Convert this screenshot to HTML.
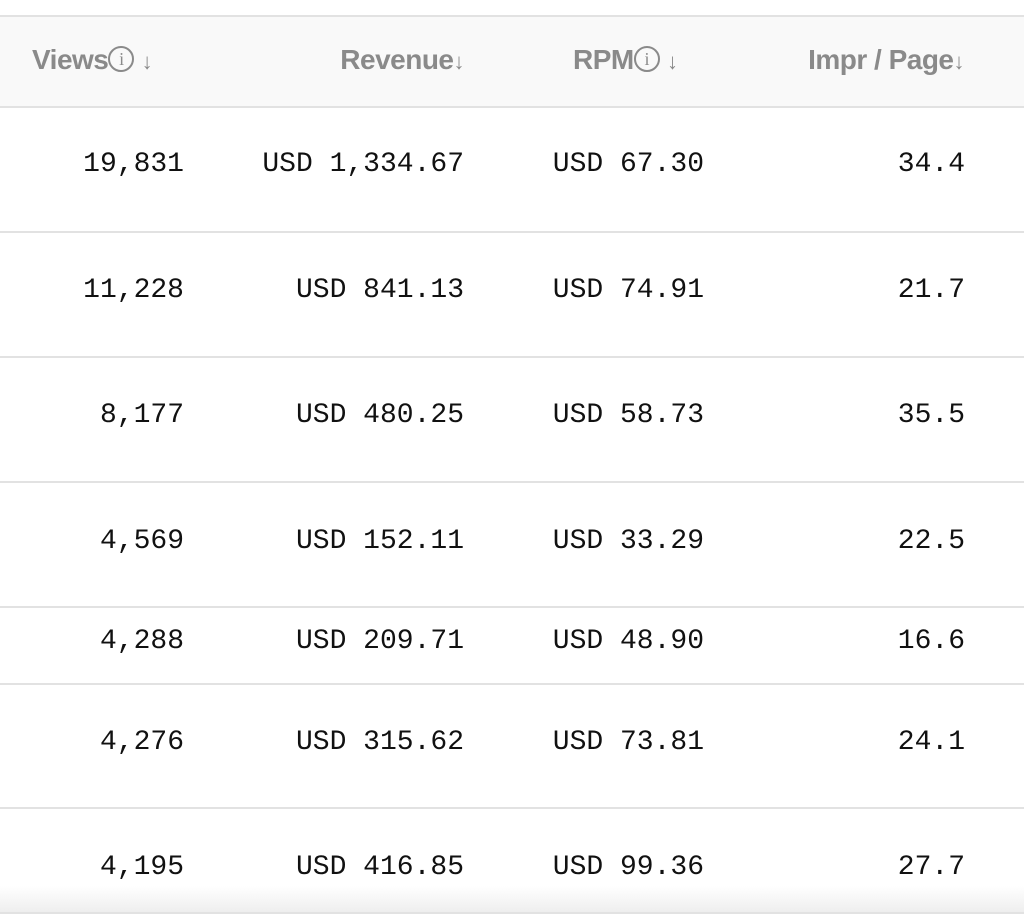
<!DOCTYPE html>
<html><head><meta charset="utf-8">
<style>
html,body{margin:0;padding:0;background:#fff;}
#root{position:relative;width:1024px;height:922px;overflow:hidden;background:#fff;font-family:"Liberation Sans",sans-serif;}
.hdr{position:absolute;left:0;top:15px;width:1024px;height:89px;background:#f9f9f9;border-top:2px solid #e2e2e2;border-bottom:2px solid #e2e2e2;}
.hl{position:absolute;top:40px;font-weight:bold;font-size:28px;color:#8a8a8a;white-space:nowrap;line-height:40px;letter-spacing:-0.5px;}
.info{display:inline-block;width:26px;height:26px;border:2px solid #8a8a8a;border-radius:50%;box-sizing:border-box;font-size:18px;font-weight:normal;text-align:center;line-height:22px;vertical-align:middle;margin-top:-6px;font-family:"Liberation Serif",serif;}
.arr{font-size:22px;font-weight:bold;}
.line{position:absolute;left:0;width:1024px;height:2px;background:#e2e2e2;}
.cell{position:absolute;font-family:"Liberation Mono",monospace;font-size:28px;color:#111;white-space:nowrap;text-align:right;line-height:34px;}
.shade{position:absolute;left:0;top:886px;width:1024px;height:26px;background:linear-gradient(#fff,#eeeeee);}
</style></head>
<body>
<div id="root">
  <div class="hdr"></div>
  <div class="hl" style="left:32px">Views<span class="info">i</span> <span class="arr">↓</span></div>
  <div class="hl" style="right:560px">Revenue<span class="arr">↓</span></div>
  <div class="hl" style="left:573px">RPM<span class="info">i</span> <span class="arr">↓</span></div>
  <div class="hl" style="right:60px">Impr / Page<span class="arr">↓</span></div>
  <div class="shade"></div>
  <div class="line" style="top:912px"></div>
</div>
<script>
const views = ["19,831","11,228","8,177","4,569","4,288","4,276","4,195"];
const revenue = ["USD 1,334.67","USD 841.13","USD 480.25","USD 152.11","USD 209.71","USD 315.62","USD 416.85"];
const rpm = ["USD 67.30","USD 74.91","USD 58.73","USD 33.29","USD 48.90","USD 73.81","USD 99.36"];
const imprPerPage = ["34.4","21.7","35.5","22.5","16.6","24.1","27.7"];

const root = document.getElementById('root');
const rowCenters = [165,291,416,542,642,743,868];
const dividers = [231,356,481,606,683,807];
const colRight = [184,464,704,965];
const colNames = ['views-cell','revenue-cell','rpm-cell','impr-page-cell'];
const cols = [views,revenue,rpm,imprPerPage];

dividers.forEach(function(y){
  const l = document.createElement('div');
  l.className = 'line';
  l.style.top = y + 'px';
  
  
  root.appendChild(l);
});

for (let r = 0; r < views.length; r++) {
  for (let c = 0; c < cols.length; c++) {
    const d = document.createElement('div');
    d.className = 'cell';
    d.textContent = cols[c][r];
    d.style.right = (1024 - colRight[c]) + 'px';
    d.style.top = (rowCenters[r] - 17) + 'px';
    
    
    root.appendChild(d);
  }
}
</script>
</body></html>
